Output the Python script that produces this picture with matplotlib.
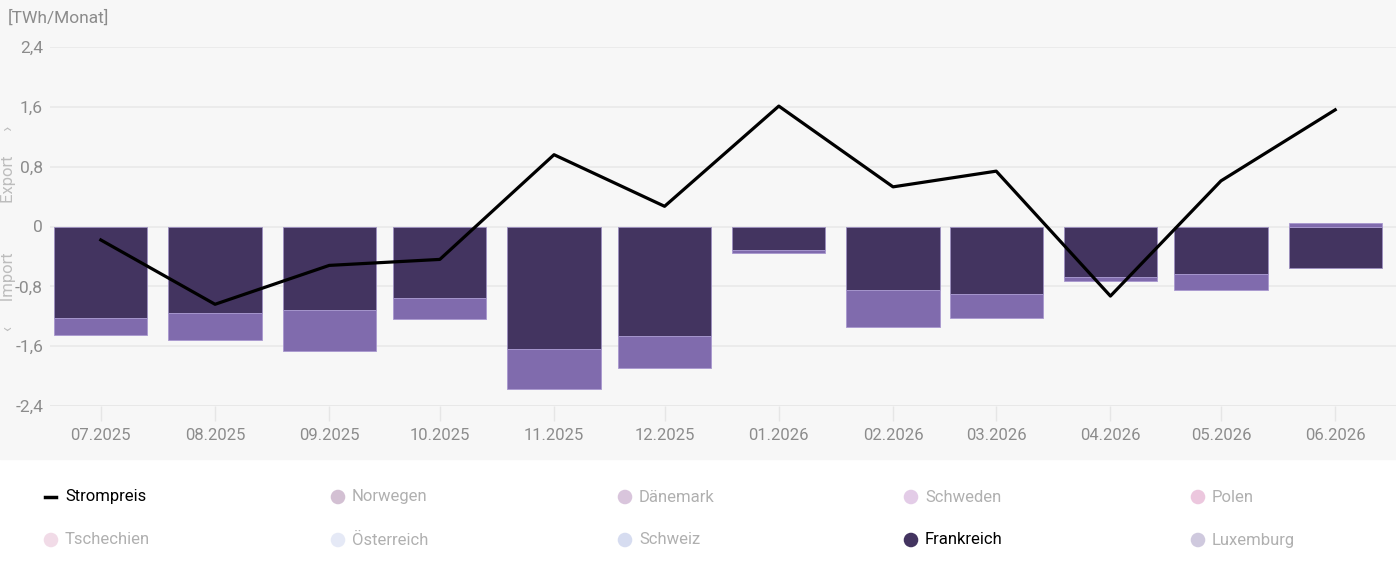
import matplotlib.pyplot as plt
import matplotlib.dates as mdates
import pandas as pd
from matplotlib.lines import Line2D

# === Data ===
months = ['2025-07-01', '2025-08-01', '2025-09-01', '2025-10-01', '2025-11-01', '2025-12-01',
          '2026-01-01', '2026-02-01', '2026-03-01', '2026-04-01', '2026-05-01', '2026-06-01']
frankreich = [-1.22, -1.15, -1.12, -0.96, -1.64, -1.47, -0.31, -0.85, -0.90, -0.67, -0.64, -0.55]
uebrige = [-0.23, -0.37, -0.54, -0.28, -0.53, -0.42, -0.05, -0.50, -0.33, -0.06, -0.21, 0.05]
strompreis = [-0.18, -1.04, -0.52, -0.44, 0.96, 0.27, 1.61, 0.53, 0.74, -0.93, 0.61, 1.56]
y_ticks = [-2.4, -1.6, -0.8, 0, 0.8, 1.6, 2.4]

legend_labels = ['Strompreis', 'Norwegen', 'Dänemark', 'Schweden', 'Polen',
                 'Tschechien', 'Österreich', 'Schweiz', 'Frankreich', 'Luxemburg']
legend_colors = ['#000000', '#d3c0d3', '#d9c5dc', '#e3cce7', '#ecc7de',
                 '#f1dbe7', '#e5e9f6', '#d6dcf0', '#433460', '#cfc9de']
legend_active = [True, False, False, False, False, False, False, False, True, False]

dates = pd.to_datetime(months)

plt.rcParams['font.family'] = ['Roboto', 'DejaVu Sans']
grey = '#8c8c8c'

fig = plt.figure(figsize=(13.96, 5.64), dpi=100)
fig.patch.set_facecolor('white')
# grey chart background
fig.patches.append(plt.Rectangle((0, 105 / 564), 1, 1, transform=fig.transFigure,
                                 color='#f7f7f7', zorder=-10))

ax = fig.add_axes([50 / 1396, 158 / 564, 1346 / 1396, 359 / 564])
ax.set_facecolor('none')

# --- Bars ---
width = pd.Timedelta(days=25.3)
ax.bar(dates, frankreich, width=width, color='#433460', edgecolor='#9c8fc0', linewidth=0.6, zorder=3)
bottoms = [f if u < 0 else 0 for f, u in zip(frankreich, uebrige)]
ax.bar(dates, uebrige, width=width, bottom=bottoms, color='#806bad', edgecolor='#a898cf',
       linewidth=0.6, zorder=3)

# --- Line ---
ax.plot(dates, strompreis, color='black', linewidth=2.3, zorder=4)

# --- Axes styling ---
ax.set_ylim(-2.4, 2.4)
ax.set_xlim(pd.Timestamp('2025-06-17 05:00'), pd.Timestamp('2026-06-17 12:00'))
ax.set_yticks(y_ticks)
ax.set_yticklabels([('%g' % v).replace('.', ',') for v in y_ticks])
ax.set_xticks(dates)
ax.xaxis.set_major_formatter(mdates.DateFormatter('%m.%Y'))
ax.grid(axis='y', color='#e9e9e9', linewidth=1.2, zorder=0)
for s in ax.spines.values():
    s.set_visible(False)
ax.axhline(-2.4, color='#e4e4e4', linewidth=2, zorder=1)
ax.tick_params(axis='y', length=0, pad=5, labelsize=12.5, labelcolor=grey)
ax.tick_params(axis='x', length=11, width=1, color='#e6e6e6', pad=5, labelsize=12, labelcolor=grey)

fig.text(8 / 1396, 1 - 18 / 564, '[TWh/Monat]', fontsize=12.5, color=grey, va='center', ha='left')
fig.text(1 / 1396, 1 - 228 / 564, '‹      Import            Export      ›', rotation=90,
         fontsize=12, color='#bdbdbd', va='center', ha='left')

# --- Legend ---
lax = fig.add_axes([0, 0, 1, 104 / 564])
lax.set_xlim(0, 1396)
lax.set_ylim(104, 0)
lax.axis('off')
col_x = [50, 337, 624, 910, 1197]
row_y = [37, 80]
for i, (lab, col, act) in enumerate(zip(legend_labels, legend_colors, legend_active)):
    x = col_x[i % 5]
    y = row_y[i // 5]
    if lab == 'Strompreis':
        lax.add_line(Line2D([x - 5, x + 6], [y, y], color=col, linewidth=2.5))
    else:
        lax.scatter([x + 1], [y], s=110, color=col, edgecolors='none')
    lax.text(x + 15, y, lab, fontsize=12, va='center', ha='left',
             color='black' if act else '#b0b0b0')

fig.savefig('out.png', dpi=100, facecolor=fig.get_facecolor())
